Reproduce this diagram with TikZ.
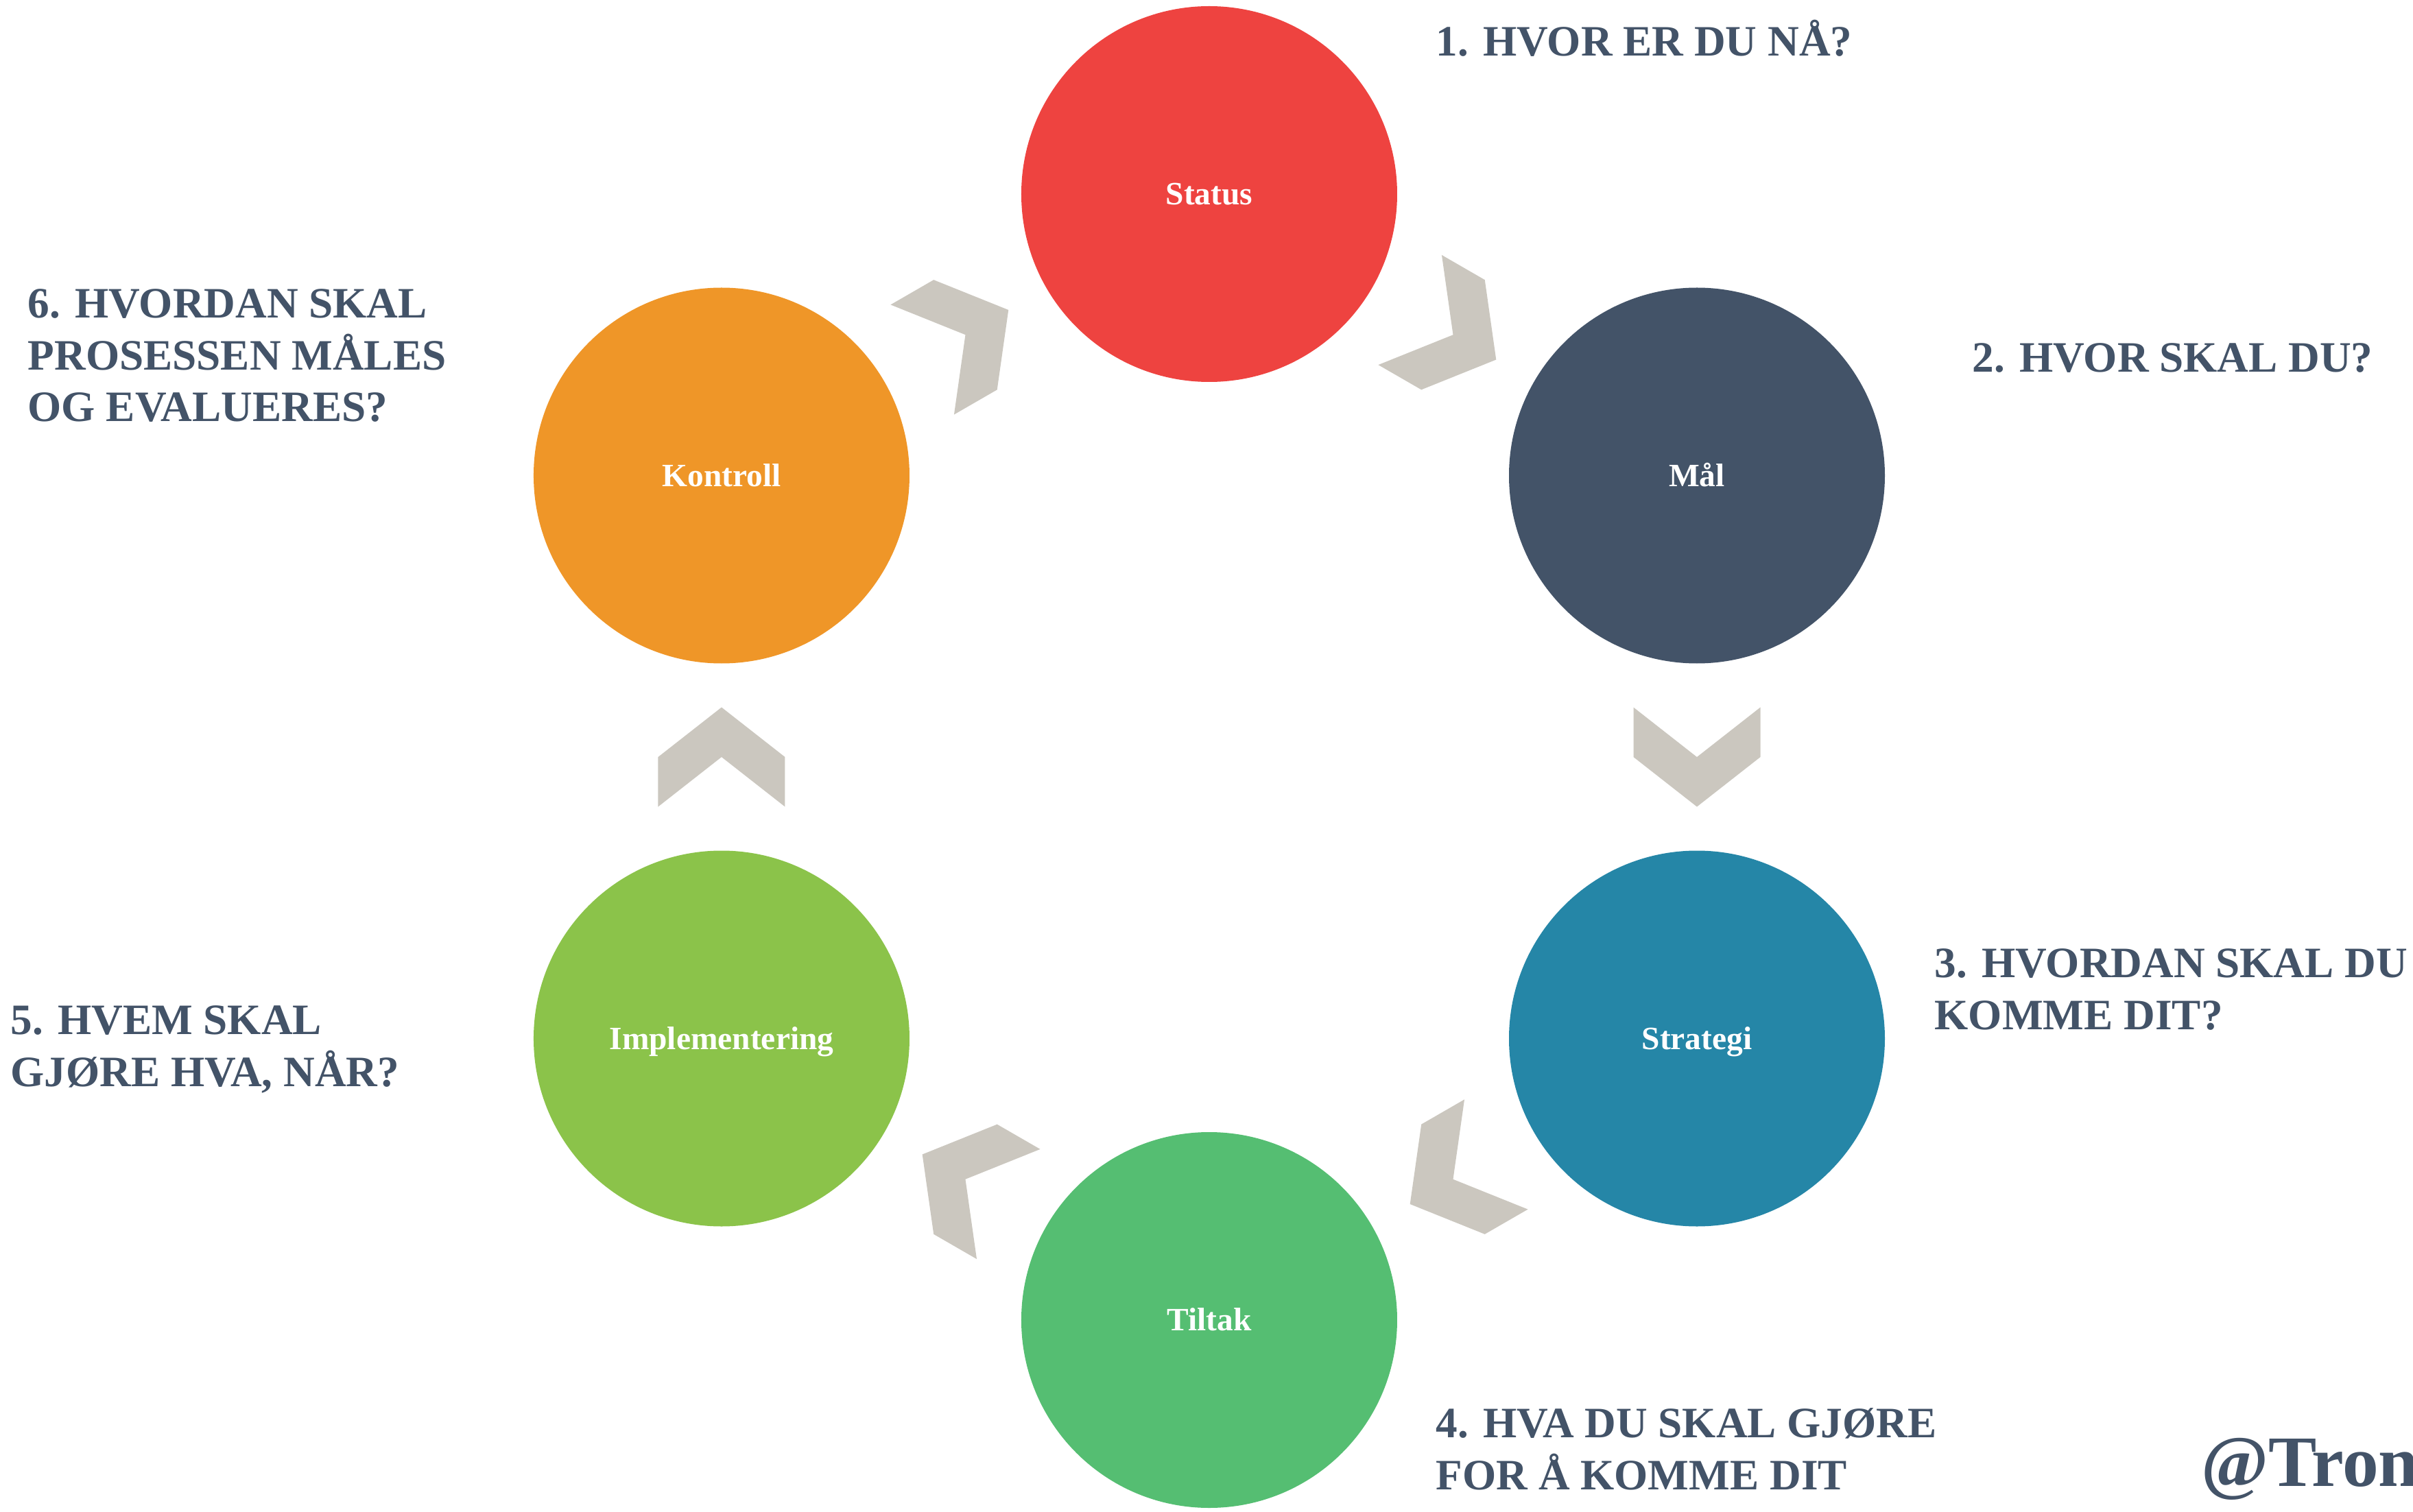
\documentclass[tikz,border=0pt]{standalone}
\usepackage{fontspec}
\setmainfont{Liberation Serif}
\usepackage{tikz}
\usetikzlibrary{calc}
\definecolor{statusred}{RGB}{238,67,64}
\definecolor{slate}{RGB}{67,83,104}
\definecolor{teal}{RGB}{37,134,167}
\definecolor{tiltakgreen}{RGB}{85,190,114}
\definecolor{limegreen}{RGB}{139,195,74}
\definecolor{orange}{RGB}{239,150,40}
\definecolor{chevgray}{RGB}{203,199,191}

\begin{document}
\begin{tikzpicture}[
  every node/.style={inner sep=0pt},
  phase/.style={circle, minimum size=5.48cm, text=white, font=\bfseries\fontsize{13.5}{16}\selectfont, text height=8.9pt, text depth=0pt},
  question/.style={text=slate, font=\bfseries\fontsize{18}{21.6}\selectfont, align=left, anchor=base west},
  chev/.style={fill=chevgray}
]
\useasboundingbox (-17.63,-11.01) rectangle (17.55,11.04);

% ring of phases
\node[phase, fill=statusred] (status) at (90:8.21) {Status};
\node[phase, fill=slate] (maal) at (30:8.21) {Mål};
\node[phase, fill=teal] (strategi) at (-30:8.21) {Strategi};
\node[phase, fill=tiltakgreen] (tiltak) at (-90:8.21) {Tiltak};
\node[phase, fill=limegreen] (impl) at (210:8.21) {Implementering};
\node[phase, fill=orange] (kontroll) at (150:8.21) {Kontroll};

% chevrons between phases
\foreach \x/\y/\r in {status/maal/-30, maal/strategi/-90, strategi/tiltak/-150, tiltak/impl/150, impl/kontroll/90, kontroll/status/30}
  \fill[chev, shift={($(\x)!0.5!(\y)$)}, rotate=\r] (0.725,0) -- (0,0.925) -- (-0.725,0.925) -- (0,0) -- (-0.725,-0.925) -- (0,-0.925) -- cycle;

% questions (base = last line)
\node[question] (q1) at (3.30,10.22) {1. HVOR ER DU NÅ?};
\node[question] (q2) at (11.12,5.61) {2. HVOR SKAL DU?};
\node[question] (q3) at (10.57,-3.97) {3. HVORDAN SKAL DU\\KOMME DIT?};
\node[question] (q4) at (3.30,-10.68) {4. HVA DU SKAL GJØRE\\FOR Å KOMME DIT};
\node[question] (q5) at (-17.48,-4.80) {5. HVEM SKAL\\GJØRE HVA, NÅR?};
\node[question] (q6) at (-17.23,4.89) {6. HVORDAN SKAL\\PROSESSEN MÅLES\\OG EVALUERES?};

\node[text=slate, font=\bfseries\fontsize{30}{36}\selectfont, anchor=base west] (tag) at (14.46,-10.63) {@Tron};
\end{tikzpicture}
\end{document}
